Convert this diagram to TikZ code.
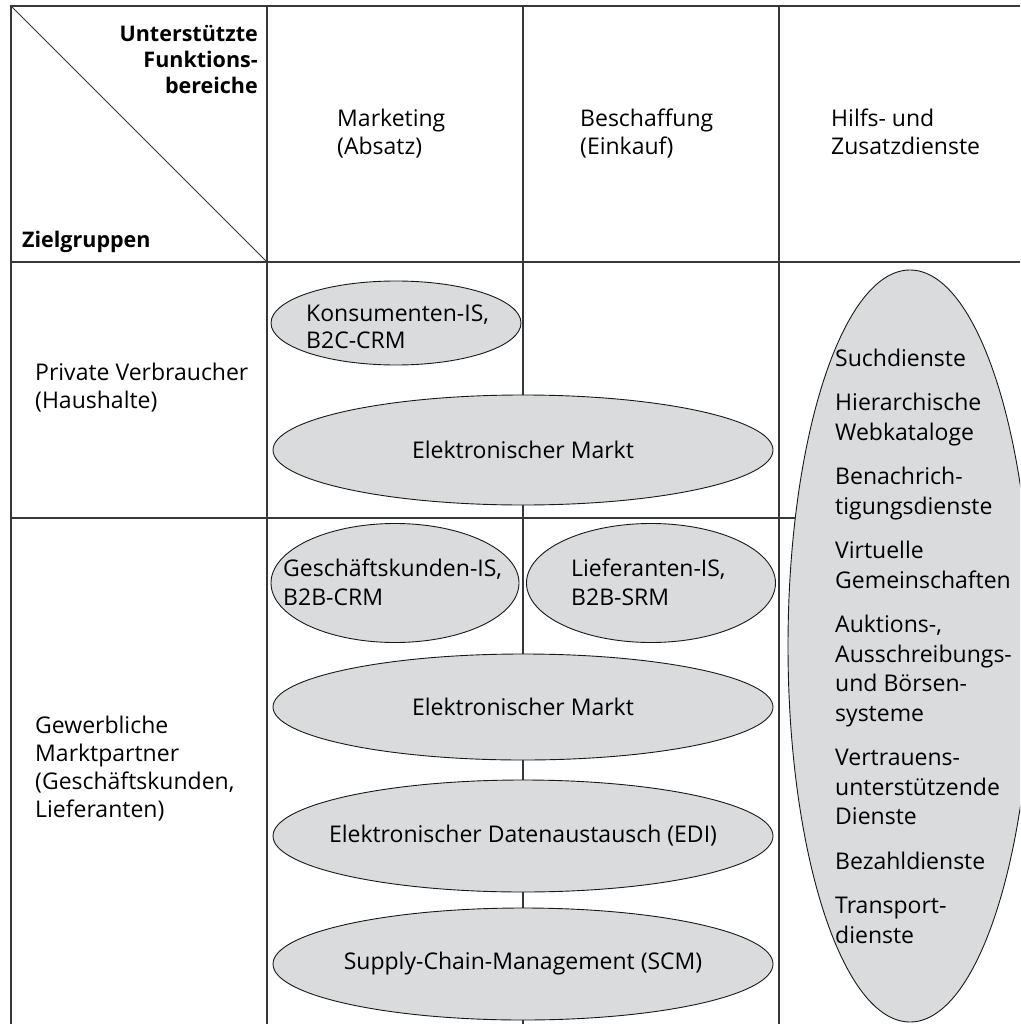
\documentclass[tikz,border=0pt]{standalone}
\usepackage{fontspec}
\setmainfont{Open Sans}
\usetikzlibrary{shapes.geometric}
\definecolor{ellfill}{RGB}{218,219,221}
\definecolor{gridcol}{RGB}{55,55,55}
\begin{document}
\begin{tikzpicture}[x=1pt,y=-1pt,
  gridline/.style={draw=gridcol,line width=1.6pt},
  diag/.style={draw=gridcol,line width=1pt},
  ell/.style={ellipse,draw=black!90,line width=0.9pt,fill=ellfill,inner sep=0pt},
  txt/.style={inner sep=0pt,align=left,font=\fontsize{23}{28}\selectfont},
  hdr/.style={inner sep=0pt,font=\fontsize{21.5}{26}\selectfont\bfseries}]
\useasboundingbox (0,0) rectangle (1020,1024);
\clip (0,0) rectangle (1020,1024);
% grid
\coordinate (tl) at (11,6);
\coordinate (hc) at (267,262);
\draw[gridline] (11,1024) -- (11,6) -- (1020,6);
\draw[gridline] (11,262) -- (1020,262);
\draw[gridline] (11,518) -- (1020,518);
\draw[gridline] (267,6) -- (267,1024);
\draw[gridline] (523,6) -- (523,1024);
\draw[gridline] (779,6) -- (779,1024);
\draw[diag] (tl) -- (hc);
% header
\node[hdr,anchor=north east,align=right] (uf) at (258,25) {Unterstützte\\Funktions-\\bereiche};
\node[hdr,anchor=west] (zg) at (22,242) {Zielgruppen};
\node[txt,anchor=north west] (mk) at (337,108.5) {Marketing\\(Absatz)};
\node[txt,anchor=north west] (bs) at (580,108.5) {Beschaffung\\(Einkauf)};
\node[txt,anchor=north west] (hz) at (831,108.5) {Hilfs- und\\Zusatzdienste};
% row labels
\node[txt,anchor=north west] (pv) at (35,362.5) {Private Verbraucher\\(Haushalte)};
\node[txt,anchor=north west] (gm) at (35,715.5) {Gewerbliche\\Marktpartner\\(Geschäftskunden,\\Lieferanten)};
% ellipses
\node[ell,minimum width=250pt,minimum height=84pt] (kis) at (396,323) {};
\node[txt,anchor=north west,font=\fontsize{23}{27}\selectfont] (kist) at (306,304.5) {Konsumenten-IS,\\B2C-CRM};
\node[ell,minimum width=500pt,minimum height=110pt,label={[txt]center:Elektronischer Markt}] (em1) at (523,450) {};
\node[ell,minimum width=248pt,minimum height=119pt] (gis) at (395,583) {};
\node[txt,anchor=north west,font=\fontsize{23}{29}\selectfont] (gist) at (283,559) {Geschäftskunden-IS,\\B2B-CRM};
\node[ell,minimum width=249pt,minimum height=119pt] (lis) at (651,583) {};
\node[txt,anchor=north west,font=\fontsize{23}{29}\selectfont] (list) at (571,559) {Lieferanten-IS,\\B2B-SRM};
\node[ell,minimum width=500pt,minimum height=106pt,label={[txt]center:Elektronischer Markt}] (em2) at (523,707) {};
\node[ell,minimum width=500pt,minimum height=112pt,label={[txt]center:Elektronischer Datenaustausch (EDI)}] (edi) at (523,836) {};
\node[ell,minimum width=500pt,minimum height=112pt,label={[txt]center:Supply-Chain-Management (SCM)}] (scm) at (523,964) {};
\node[ell,minimum width=244pt,minimum height=752pt] (big) at (910,646) {};
\node[txt,anchor=north west,font=\fontsize{23}{29.5}\selectfont] (svc) at (835,348.5)
 {Suchdienste\\[15pt]
  Hierarchische\\Webkataloge\\[15pt]
  Benachrich-\\tigungsdienste\\[15pt]
  Virtuelle\\Gemeinschaften\\[15pt]
  Auktions-,\\Ausschreibungs-\\und Börsen-\\systeme\\[15pt]
  Vertrauens-\\unterstützende\\Dienste\\[15pt]
  Bezahldienste\\[15pt]
  Transport-\\dienste};
\end{tikzpicture}
\end{document}
